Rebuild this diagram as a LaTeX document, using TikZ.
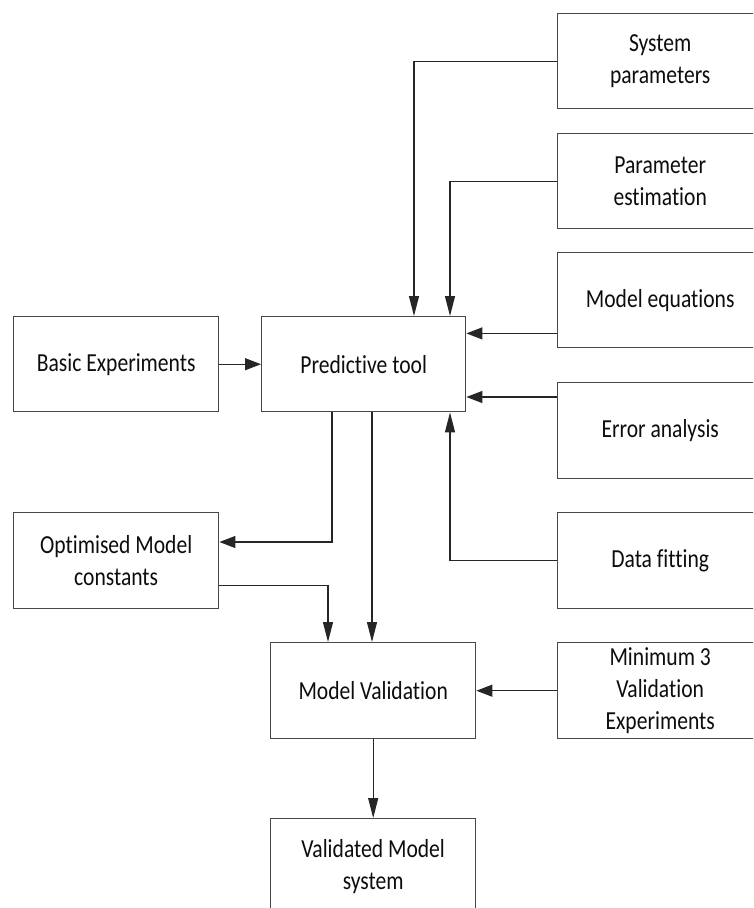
\documentclass[tikz,border=0pt]{standalone}
\usepackage{fontspec}
\setmainfont{Carlito}[FakeStretch=0.83,Ligatures=NoCommon]
\usetikzlibrary{arrows.meta}
\begin{document}
\begin{tikzpicture}[x=1pt,y=-1pt,
  box/.style={draw=black!72,line width=1.4pt,fill=white,minimum width=205pt,minimum height=95pt,
    anchor=north west,align=center,inner sep=0pt,font=\fontsize{26}{32}\selectfont,text=black!95},
  conn/.style={draw=black!85,line width=1.2pt},
  harr/.style={conn,-{Triangle[length=16pt,width=12pt]}},
  varr/.style={conn,-{Triangle[length=20pt,width=10pt]}}]
\useasboundingbox (0,0) rectangle (753,908);
\clip (0,0) rectangle (753,908);
% right column
\node[box] (sys) at (557,13) {System\\parameters};
\node[box] (par) at (557,133) {Parameter\\estimation};
\node[box] (meq) at (557,252) {Model equations};
\node[box,minimum height=96pt] (err) at (557,382) {Error analysis};
\node[box,minimum height=96pt] (fit) at (557,512) {Data fitting};
\node[box,minimum height=96pt] (min) at (557,642) {Minimum 3\\Validation\\Experiments};
% left / middle
\node[box] (basic) at (13,316) {Basic Experiments};
\node[box,minimum width=204pt] (pred) at (261,316) {Predictive tool};
\node[box,minimum height=96pt] (opt) at (13,512) {Optimised Model\\constants};
\node[box,minimum height=96pt] (mval) at (270,642) {Model Validation};
\node[box,minimum height=96pt] (vms) at (270,818) {Validated Model\\system};
% connectors
\draw[varr] (sys.west) -| ([xshift=153pt]pred.north west);
\draw[varr] (par.west) -| ([xshift=189pt]pred.north west);
\draw[harr] ([yshift=15pt]meq.south west) coordinate (m1) -- (m1 -| pred.east);
\draw[harr] ([yshift=-15pt]err.north west) coordinate (e1) -- (e1 -| pred.east);
\draw[varr] (fit.west) -| ([xshift=189pt]pred.south west);
\draw[harr] (basic.east) -- (pred.west);
\draw[harr] ([xshift=71pt]pred.south west) |- ([yshift=-30pt]opt.north east);
\draw[varr] ([yshift=24pt]opt.south east) -| ([xshift=58pt]mval.north west);
\draw[varr] ([xshift=111pt]pred.south west) coordinate (p1) -- (p1 |- mval.north);
\draw[harr] (min.west) -- (min.west -| mval.east);
\draw[varr] (mval.south) -- (vms.north);
\end{tikzpicture}
\end{document}
